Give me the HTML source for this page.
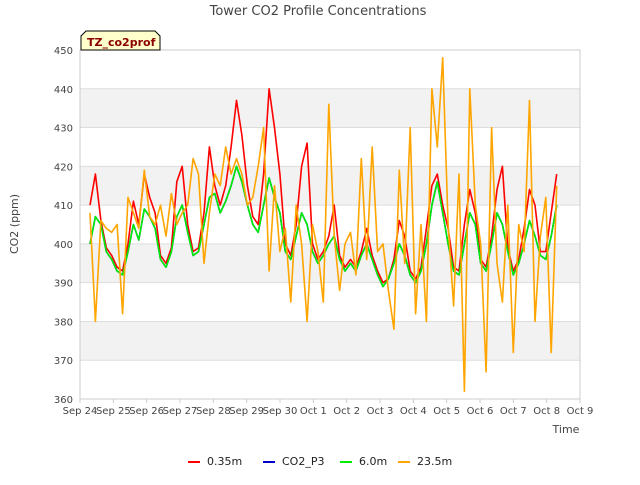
<!DOCTYPE html>
<html><head><meta charset="utf-8"><style>
body{margin:0;background:#fff;font-family:"Liberation Sans","DejaVu Sans",sans-serif}
svg text{font-family:"DejaVu Sans","Liberation Sans",sans-serif}
</style></head><body>
<svg id="c" width="640" height="480" xmlns="http://www.w3.org/2000/svg">
<rect width="640" height="480" fill="#fff"/>
<text x="318" y="15" font-size="13" text-anchor="middle" fill="#444">Tower CO2 Profile Concentrations</text>
<text x="18" y="224" font-size="11" text-anchor="middle" fill="#444" transform="rotate(-90 18 224)">CO2 (ppm)</text>
<text x="566" y="433" font-size="11" text-anchor="middle" fill="#444">Time</text>
<g id="grid"></g><g id="series"></g><g id="axes"></g>
<g>
<path d="M81,50 L81,36 L86,31 L155,31 L160,36 L160,50 Z" fill="#ffffcc" stroke="#000" stroke-width="1"/>
<text x="87" y="46" font-size="11" font-weight="bold" fill="#8b0000">TZ_co2prof</text>
</g>
<g id="legend"></g>
</svg>
<script>
const yTicks=[360,370,380,390,400,410,420,430,440,450];
const xTickLabels=["Sep 24","Sep 25","Sep 26","Sep 27","Sep 28","Sep 29","Sep 30","Oct 1","Oct 2","Oct 3","Oct 4","Oct 5","Oct 6","Oct 7","Oct 8","Oct 9"];
const startDay=0.3, endDay=14.3;
const s035=[410,418,406,399,397,394,393,400,411,405,418,412,408,397,395,399,416,420,405,398,399,408,425,415,410,415,425,437,428,415,407,405,418,440,430,418,400,397,405,420,426,400,396,398,402,410,397,394,396,394,398,404,397,393,390,391,396,406,402,393,391,394,404,415,418,410,404,394,393,405,414,408,396,394,402,414,420,399,393,396,404,414,410,398,398,408,418];
const sP3=[400,407,405,398,396,393,392,398,405,401,409,407,404,396,394,398,407,410,403,397,398,405,412,413,408,411,415,420,416,410,405,403,410,417,412,408,398,396,402,408,405,398,395,397,400,402,396,393,395,393,397,400,396,392,389,391,395,400,397,392,390,393,400,410,416,408,400,393,392,400,408,405,395,393,400,408,405,398,392,395,400,406,402,397,396,402,410];
const s60=sP3.slice();
const s235=[408,380,406,404,403,405,382,412,408,404,419,407,405,410,402,413,405,408,410,422,418,395,408,418,415,425,418,422,418,410,412,420,430,393,415,398,404,385,410,400,380,405,398,385,436,402,388,400,403,392,422,396,425,398,400,388,378,419,395,430,382,405,380,440,425,448,405,384,418,362,440,410,400,367,430,395,385,410,372,405,398,437,380,402,412,372,415];
const X0=80,X1=580,Y0=399,Y1=50;
const xs=d=>X0+d*(X1-X0)/15;
const ys=v=>Y0-(v-360)*(Y0-Y1)/90;
const NS="http://www.w3.org/2000/svg";
function mk(t,a,p){const e=document.createElementNS(NS,t);for(const k in a)e.setAttribute(k,a[k]);p.appendChild(e);return e;}
const grid=document.getElementById('grid');
for(let i=0;i<yTicks.length-1;i++){
 if(i%2==1){const r=mk('rect',{x:X0,y:ys(yTicks[i+1]),width:X1-X0,height:ys(yTicks[i])-ys(yTicks[i+1]),fill:'#f2f2f2'},grid);
 
 }
}
yTicks.forEach(v=>{const l=mk('line',{x1:X0,x2:X1,y1:ys(v),y2:ys(v),stroke:'#ddd'},grid);

});
const ax=document.getElementById('axes');
mk('rect',{x:X0,y:Y1,width:X1-X0,height:Y0-Y1,fill:'none',stroke:'#ccc'},ax);
yTicks.forEach(v=>{const t=mk('text',{x:X0-7,y:ys(v)+4,'font-size':10,'text-anchor':'end',fill:'#444'},ax);t.textContent=v;

});
xTickLabels.forEach((s,i)=>{mk('line',{x1:xs(i),x2:xs(i),y1:Y0,y2:Y0+4,stroke:'#ccc'},ax);
const t=mk('text',{x:xs(i),y:Y0+15,'font-size':10,'text-anchor':'middle',fill:'#444'},ax);t.textContent=s;

});
const ser=document.getElementById('series');
const series=[["0.35m",s035,"#ff0000"],["CO2_P3",sP3,"#0000cc"],["6.0m",s60,"#00ee00"],["23.5m",s235,"#ffa500"]];
series.forEach(([n,arr,c])=>{
 const step=(endDay-startDay)/(arr.length-1);
 const pts=arr.map((v,i)=>xs(startDay+i*step).toFixed(1)+','+ys(v).toFixed(1)).join(' ');
 const p=mk('polyline',{points:pts,fill:'none',stroke:c,'stroke-width':1.6,'stroke-linejoin':'round'},ser);
 
 
});
const lg=document.getElementById('legend');
const lx=[188,263,340,398];
series.forEach(([n,arr,c],i)=>{
 const g=mk('g',{},lg);
 
 
 mk('line',{x1:lx[i],x2:lx[i]+12,y1:462,y2:462,stroke:c,'stroke-width':2},g);
 const t=mk('text',{x:lx[i]+19,y:465,'font-size':11,fill:'#222'},g);t.textContent=n;
});
</script>
</body></html>
